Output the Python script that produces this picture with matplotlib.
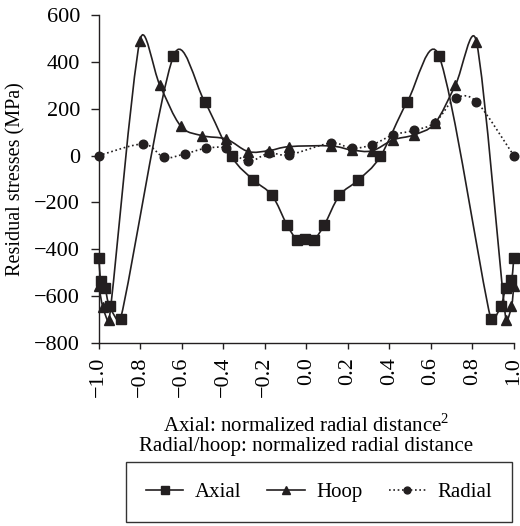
import matplotlib
matplotlib.use("Agg")
import matplotlib.pyplot as plt
from matplotlib.path import Path
from matplotlib.patches import PathPatch
from matplotlib.lines import Line2D
import numpy as np

# ---- data ----
axial_x = [-1.0, -0.99, -0.97, -0.948, -0.895, -0.64, -0.49, -0.36, -0.255, -0.165,
           -0.093, -0.044, -0.005, 0.036, 0.087, 0.16, 0.25, 0.357, 0.487, 0.64,
           0.889, 0.937, 0.962, 0.989, 1.0]
axial_y = [-438, -537, -565, -644, -696, 425, 230, -4, -104, -170,
           -296, -360, -357, -360, -296, -170, -105, -4, 230, 425,
           -696, -644, -565, -532, -438]

hoop_x = [-1.0, -0.98, -0.95, -0.802, -0.706, -0.606, -0.502, -0.385, -0.28, -0.18,
          -0.083, 0.117, 0.218, 0.317, 0.418, 0.518, 0.62, 0.719, 0.82, 0.962, 0.989, 1.0]
hoop_y = [-558, -648, -700, 490, 301, 127, 85, 70, 17, 21,
          38, 41, 24, 20, 67, 88, 138, 301, 486, -700, -644, -558]

radial_x = [-1.0, -0.786, -0.685, -0.586, -0.484, -0.385, -0.283, -0.18, -0.083,
            0.117, 0.218, 0.317, 0.418, 0.518, 0.62, 0.72, 0.82, 1.0]
radial_y = [0, 49, -8, 7, 31, 31, -25, 10, 3,
            53, 31, 46, 88, 107, 141, 245, 230, 0]

series_names = ["Axial", "Hoop", "Radial"]
x_ticks = [-1.0, -0.8, -0.6, -0.4, -0.2, 0.0, 0.2, 0.4, 0.6, 0.8, 1.0]
y_ticks = [-800, -600, -400, -200, 0, 200, 400, 600]
x_range = (-1.0, 1.0)
y_range = (-800, 600)

plt.rcParams['font.family'] = ['Liberation Serif', 'DejaVu Serif']
plt.rcParams['mathtext.fontset'] = 'custom'
plt.rcParams['mathtext.rm'] = 'Liberation Serif'
C = '#231f20'

W, H = 520, 526
ax_rect = [0.19, 0.348, 0.798, 0.6235]
sx = ax_rect[2] * W / (x_range[1] - x_range[0])   # px per x unit
sy = ax_rect[3] * H / (y_range[1] - y_range[0])   # px per y unit


def smooth_path(xs, ys):
    # Excel-like smoothed line: Bezier with tangent/6, capped at half segment (pixel space)
    p = np.column_stack([np.asarray(xs) * sx, np.asarray(ys) * sy]).astype(float)
    n = len(p)
    verts = [p[0]]
    codes = [Path.MOVETO]
    for i in range(n - 1):
        p0 = p[i - 1] if i > 0 else p[i]
        p1 = p[i]
        p2 = p[i + 1]
        p3 = p[i + 2] if i + 2 < n else p[i + 1]
        d12 = np.hypot(*(p2 - p1))
        o1 = (p2 - p0) / 6.0
        o2 = (p3 - p1) / 6.0
        n1 = np.hypot(*o1)
        n2 = np.hypot(*o2)
        if n1 > d12 / 2 and n1 > 0:
            o1 = o1 * (d12 / 2) / n1
        if n2 > d12 / 2 and n2 > 0:
            o2 = o2 * (d12 / 2) / n2
        verts += [p1 + o1, p2 - o2, p2]
        codes += [Path.CURVE4] * 3
    v = np.array(verts)
    v[:, 0] /= sx
    v[:, 1] /= sy
    return Path(v, codes)


fig = plt.figure(figsize=(W / 100, H / 100), dpi=100)
ax = fig.add_axes(ax_rect)

styles = [
    (axial_x, axial_y, 's', '-', 6.5),
    (hoop_x, hoop_y, '^', '-', 7),
    (radial_x, radial_y, 'o', (0, (1.0, 1.6)), 6.2),
]
handles = []
for (xs, ys, mk, ls, ms), name in zip(styles, series_names):
    patch = PathPatch(smooth_path(xs, ys), facecolor='none', edgecolor=C,
                      lw=1.2, linestyle=ls, clip_on=False)
    ax.add_patch(patch)
    ax.plot(xs, ys, ls='none', marker=mk, ms=ms, color=C, mec=C, clip_on=False, zorder=3)
    handles.append(Line2D([], [], color=C, lw=1.2, linestyle=ls, marker=mk,
                          ms=ms * 0.8, label=name))

ax.set_xlim(*x_range)
ax.set_ylim(*y_range)
ax.set_xticks(x_ticks)
ax.set_xticklabels([f"{v:.1f}".replace('-', '\u2212') for v in x_ticks], rotation=90)
ax.set_yticks(y_ticks)
ax.set_yticklabels([f"{v}".replace('-', '\u2212') for v in y_ticks])
for s in ['top', 'right']:
    ax.spines[s].set_visible(False)
for s in ['left', 'bottom']:
    ax.spines[s].set_color(C)
    ax.spines[s].set_linewidth(1.0)
ax.tick_params(axis='both', direction='out', width=1.0, color=C,
               labelsize=16, labelcolor='black')
ax.tick_params(axis='x', length=4.5, pad=5.5)
ax.tick_params(axis='y', length=5.5, pad=8)

ax.set_ylabel("Residual stresses (MPa)", fontsize=14.5, labelpad=6)

fig.text(306.5 / W, 1 - 435 / H,
         "Axial: normalized radial distance$^{\\mathregular{2}}$\nRadial/hoop: normalized radial distance",
         ha='center', va='center', fontsize=15, linespacing=1.05)

leg = fig.legend(handles=handles, loc='center', bbox_to_anchor=(319 / W, 1 - 492 / H),
                 ncol=3, frameon=True, fancybox=False, edgecolor='black',
                 fontsize=15, handlelength=1.8, columnspacing=1.25, handletextpad=0.55,
                 borderpad=0.95, borderaxespad=0)
leg.get_frame().set_linewidth(1.0)

fig.savefig("out.png", dpi=100)
